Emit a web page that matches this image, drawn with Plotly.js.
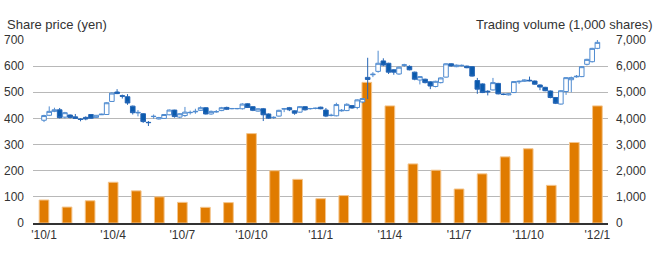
<!DOCTYPE html>
<html>
<head>
<meta charset="utf-8">
<script src="https://cdn.plot.ly/plotly-3.0.1.min.js"></script>
<style>html,body{margin:0;padding:0;background:#fff;}#chart{width:660px;height:262px;}</style>
</head>
<body>
<div id="chart"></div>
<script>
// Monthly trading volume (1,000 shares), Jan 2010 – Jan 2012
const monthLabels = ["'10/1","'10/2","'10/3","'10/4","'10/5","'10/6","'10/7","'10/8","'10/9","'10/10","'10/11","'10/12",
  "'11/1","'11/2","'11/3","'11/4","'11/5","'11/6","'11/7","'11/8","'11/9","'11/10","'11/11","'11/12","'12/1"];
const volume = [880,610,850,1560,1230,1000,790,600,780,3420,2000,1670,930,1050,5380,4480,2260,2020,1300,1880,2530,2840,1440,3080,4480];
const tickMonths = ["'10/1","'10/4","'10/7","'10/10","'11/1","'11/4","'11/7","'11/10","'12/1"];

// Weekly share price candles (yen)
const openP  = [393,412,427,433,405,413,406,398,404,415,404,414,415,465,501,487,483,447,421,418,385,407,398,400,414,432,
  405,411,422,425,431,441,417,425,430,442,437,437,437,456,445,428,437,417,403,409,436,441,429,424,445,437,438,443,
  432,411,410,429,430,449,442,463,557,567,580,620,611,586,570,603,599,577,547,550,540,522,537,558,609,598,601,
  600,598,545,532,504,509,534,493,490,499,540,542,546,543,528,519,505,480,455,503,548,559,560,607,617,668];
const highP  = [414,446,441,440,425,415,417,401,408,416,413,418,462,500,512,491,493,449,432,420,390,415,406,417,434,433,
  420,444,430,437,446,443,430,432,444,445,440,440,458,458,446,439,440,419,408,433,440,444,431,447,447,440,441,445,
  440,418,460,436,458,451,473,478,632,577,659,630,613,588,598,609,603,579,562,552,542,544,557,611,611,606,606,
  602,600,555,534,508,555,536,495,496,543,545,549,560,545,530,521,507,482,508,558,560,566,600,628,670,705];
const lowP   = [386,409,424,400,400,400,398,389,393,398,402,413,414,463,493,476,452,415,408,383,371,399,396,398,412,403,
  401,406,415,418,429,415,414,422,428,432,435,435,434,440,428,426,390,398,398,407,424,428,414,422,430,434,435,435,
  405,408,408,426,428,437,435,458,474,558,575,600,570,567,567,597,584,546,530,534,512,519,534,556,598,596,599,
  592,560,494,497,488,507,492,489,488,497,532,540,542,529,508,504,477,455,453,490,500,556,558,603,614,665];
const closeP = [411,427,433,403,422,404,400,396,398,401,412,416,460,497,495,485,459,422,423,388,384,408,403,415,432,407,
  418,424,423,427,441,417,427,426,441,435,438,438,455,442,431,437,414,401,404,431,437,433,420,445,433,438,439,437,
  409,412,453,431,454,440,471,476,549,569,611,604,577,577,596,605,586,550,560,537,524,542,555,609,601,604,603,
  594,562,512,499,502,537,494,492,494,541,542,547,544,531,520,506,480,458,506,556,556,561,598,626,668,691];

const monthIdx = monthLabels.map((_, i) => i);
const nW = openP.length;
const weekPos = openP.map((_, i) => i * (monthLabels.length - 1) / (nW - 1));
const tickVals = tickMonths.map(t => monthLabels.indexOf(t));

const FONT = '"Liberation Sans", Arial, Helvetica, sans-serif';
const TXT = '#333333';

const bars = {
  type: 'bar', x: monthIdx, y: volume, yaxis: 'y', xaxis: 'x',
  width: 0.42,
  marker: {color: '#e07b00', line: {color: '#f4c58c', width: 1}},
  hoverinfo: 'skip'
};
const candles = {
  type: 'candlestick', x: weekPos, open: openP, high: highP, low: lowP, close: closeP,
  xaxis: 'x', yaxis: 'y2',
  whiskerwidth: 0,
  increasing: {line: {color: '#4f8bd0', width: 1}, fillcolor: '#ffffff'},
  decreasing: {line: {color: '#2566b6', width: 1}, fillcolor: '#0a5aad'},
  hoverinfo: 'skip'
};

const layout = {
  width: 660, height: 262,
  margin: {l: 33, r: 52, t: 40, b: 39, pad: 0},
  paper_bgcolor: '#ffffff', plot_bgcolor: '#ffffff',
  showlegend: false, hovermode: false,
  boxgap: 0.12, boxgroupgap: 0,
  font: {family: FONT, size: 12, color: TXT},
  xaxis: {
    range: [-0.477, 24.46], tickmode: 'array', tickvals: tickVals, ticktext: tickMonths,
    showgrid: false, zeroline: false, showline: true, linecolor: '#333333', linewidth: 1.5,
    ticks: '', tickfont: {family: FONT, size: 12, color: TXT},
    rangeslider: {visible: false}, fixedrange: true
  },
  yaxis: {
    side: 'right', range: [0, 7000], dtick: 1000, tick0: 0, tickformat: ',d',
    showgrid: true, gridcolor: '#b8b8b8', gridwidth: 1, zeroline: false, showline: false,
    ticks: '', ticklabelstandoff: 7, tickfont: {family: FONT, size: 12, color: TXT}, fixedrange: true
  },
  yaxis2: {
    overlaying: 'y', side: 'left', range: [0, 700], dtick: 100, tick0: 0,
    showgrid: false, zeroline: false, showline: false,
    ticks: '', ticklabelstandoff: 8, tickfont: {family: FONT, size: 12, color: TXT}, fixedrange: true
  },
  annotations: [
    {text: 'Share price (yen)', xref: 'paper', yref: 'paper', x: (5 - 33) / 575, y: (223 - 25) / 183,
     xanchor: 'left', yanchor: 'middle', showarrow: false, font: {family: FONT, size: 13, color: TXT}},
    {text: 'Trading volume (1,000 shares)', xref: 'paper', yref: 'paper', x: (655 - 33) / 575, y: (223 - 25) / 183,
     xanchor: 'right', yanchor: 'middle', showarrow: false, font: {family: FONT, size: 13, color: TXT}}
  ]
};

Plotly.newPlot('chart', [bars, candles], layout, {staticPlot: true, displayModeBar: false});
</script>
</body>
</html>
